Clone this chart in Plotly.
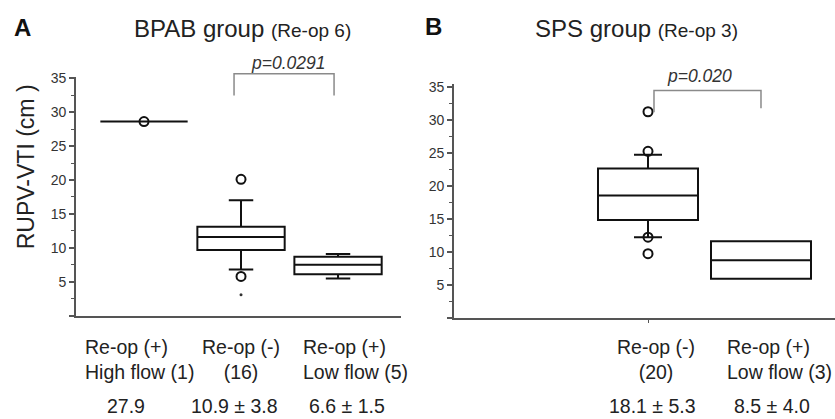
import plotly.graph_objects as go

# ---------------- data ----------------
# Panel A: BPAB group
a_positions = [0, 1, 2]
a_q1 = [28.6, 9.7, 6.1]
a_median = [28.6, 11.6, 7.5]
a_q3 = [28.6, 13.1, 8.7]
a_lowerfence = [28.6, 6.8, 5.5]
a_upperfence = [28.6, 17.0, 9.1]
a_outlier_x = [0, 1, 1]
a_outlier_y = [28.6, 20.1, 5.8]
a_extreme_x = [1]
a_extreme_y = [3.1]
a_labels = ["Re-op (+)<br>High flow (1)", "Re-op (-)<br>(16)", "Re-op (+)<br>Low flow (5)"]
a_summary = ["27.9", "10.9 ± 3.8", "6.6 ± 1.5"]
a_pvalue = "p=0.0291"

# Panel B: SPS group
b_positions = [1, 2]
b_q1 = [14.8, 5.9]
b_median = [18.5, 8.7]
b_q3 = [22.6, 11.6]
b_lowerfence = [12.2, 5.9]
b_upperfence = [24.7, 11.6]
b_outlier_x = [1, 1, 1, 1]
b_outlier_y = [31.2, 25.2, 12.2, 9.7]
b_labels = ["Re-op (-)<br>(20)", "Re-op (+)<br>Low flow (3)"]
b_summary = ["18.1 ± 5.3", "8.5 ± 4.0"]
b_pvalue = "p=0.020"

y_tickvals = [0, 5, 10, 15, 20, 25, 30, 35]
y_ticktext = ["", "5", "10", "15", "20", "25", "30", "35"]

FONT = "Arial, Liberation Sans, sans-serif"
W, H = 835, 419
BOX_LINE = "#111111"
AXIS = "#555555"
TXT = "#222222"
LABEL_SIZE = 19.5


def px_y(p):
    return 1 - p / H


fig = go.Figure()

fig.add_trace(go.Box(
    x=a_positions, q1=a_q1, median=a_median, q3=a_q3,
    lowerfence=a_lowerfence, upperfence=a_upperfence,
    width=0.9, whiskerwidth=0.28, fillcolor="white",
    line=dict(color=BOX_LINE, width=2), boxpoints=False,
    xaxis="x", yaxis="y", showlegend=False))
fig.add_trace(go.Scatter(
    x=a_outlier_x, y=a_outlier_y, mode="markers",
    marker=dict(symbol="circle-open", size=9, color=BOX_LINE, line=dict(width=2)),
    xaxis="x", yaxis="y", showlegend=False))
fig.add_trace(go.Scatter(
    x=a_extreme_x, y=a_extreme_y, mode="markers",
    marker=dict(symbol="circle", size=3, color="#333"),
    xaxis="x", yaxis="y", showlegend=False))

fig.add_trace(go.Box(
    x=b_positions, q1=b_q1, median=b_median, q3=b_q3,
    lowerfence=b_lowerfence, upperfence=b_upperfence,
    width=0.885, whiskerwidth=0.28, fillcolor="white",
    line=dict(color=BOX_LINE, width=2), boxpoints=False,
    xaxis="x2", yaxis="y2", showlegend=False))
fig.add_trace(go.Scatter(
    x=b_outlier_x, y=b_outlier_y, mode="markers",
    marker=dict(symbol="circle-open", size=9, color=BOX_LINE, line=dict(width=2)),
    xaxis="x2", yaxis="y2", showlegend=False))

yaxis_common = dict(
    tickmode="array", tickvals=y_tickvals, ticktext=y_ticktext,
    ticks="outside", ticklen=5, tickwidth=1.5, tickcolor=AXIS,
    minor=dict(ticks="outside", ticklen=3, dtick=2.5, tick0=0, tickcolor=AXIS, tickwidth=1.2),
    showline=True, linecolor=AXIS, linewidth=1.8,
    showgrid=False, zeroline=False,
    tickfont=dict(family=FONT, size=14, color="#333"),
)

fig.update_layout(
    width=W, height=H,
    margin=dict(l=0, r=0, t=0, b=0),
    paper_bgcolor="white", plot_bgcolor="white",
    showlegend=False,
    xaxis=dict(domain=[76 / W, 401 / W], range=[-0.701, 2.649],
               showline=True, linecolor=AXIS, linewidth=1.8,
               showticklabels=False, ticks="", showgrid=False, zeroline=False),
    yaxis=dict(domain=[px_y(314), px_y(71)], range=[0, 35.2], anchor="x", **yaxis_common),
    xaxis2=dict(domain=[454 / W, 1.0], range=[-0.717, 2.655],
                showline=True, linecolor=AXIS, linewidth=1.8,
                tickmode="array", tickvals=[b_positions[0]], ticks="outside", ticklen=3,
                tickcolor=AXIS, showticklabels=False, showgrid=False, zeroline=False,
                anchor="y2"),
    yaxis2=dict(domain=[px_y(316), px_y(78)], range=[0, 35.45], anchor="x2", **yaxis_common),
)


def note(text, x, y, xref="paper", size=LABEL_SIZE, xanchor="center", align="center",
         xshift=0, textangle=0, color=TXT):
    return dict(text=text, x=x, y=y, xref=xref, yref="paper", xanchor=xanchor,
                yanchor="middle", align=align, xshift=xshift, textangle=textangle,
                showarrow=False, font=dict(family=FONT, size=size, color=color))


ann = []
# panel letters & titles
ann.append(note("<b>A</b>", 22 / W, px_y(21), size=24, color="#111"))
ann.append(note("BPAB group <span style='font-size:19px'>(Re-op 6)</span>", 243 / W, px_y(22), size=24))
ann.append(note("<b>B</b>", 433 / W, px_y(20), size=24, color="#111"))
ann.append(note("SPS group <span style='font-size:19px'>(Re-op 3)</span>", 636 / W, px_y(22), size=24))
# y-axis title
ann.append(note("RUPV-VTI (cm )", 26 / W, px_y(163), size=23, textangle=-90))

# p-values
ann.append(note("<i>" + a_pvalue + "</i>", 1.485, px_y(57), xref="x", size=17.5, color="#333"))
ann.append(note("<i>" + b_pvalue + "</i>", 1.46, px_y(70), xref="x2", size=17.5, color="#333"))

# category labels
a_label_anchor = ["left", "center", "left"]
a_label_shift = [-61, 0, -37]
a_summary_shift = [-18, -7, 9]
for pos, lab, anc, sh, s, ssh in zip(a_positions, a_labels, a_label_anchor, a_label_shift,
                                      a_summary, a_summary_shift):
    ann.append(note(lab, pos, px_y(358), xref="x", xanchor=anc,
                    align="left" if anc == "left" else "center", xshift=sh))
    ann.append(note(s, pos, px_y(406), xref="x", xshift=ssh))

b_label_anchor = ["center", "left"]
b_label_shift = [8, -36]
b_summary_shift = [4, 11]
for pos, lab, anc, sh, s, ssh in zip(b_positions, b_labels, b_label_anchor, b_label_shift,
                                      b_summary, b_summary_shift):
    ann.append(note(lab, pos, px_y(358), xref="x2", xanchor=anc,
                    align="left" if anc == "left" else "center", xshift=sh))
    ann.append(note(s, pos, px_y(406), xref="x2", xshift=ssh))

fig.update_layout(annotations=ann)

# significance brackets
BR = dict(color="#8a8a8a", width=1.5)
fig.add_shape(type="path", xref="x", yref="paper",
              path=f"M {a_positions[1] - 0.072},{px_y(90)} L {a_positions[1] - 0.072},{px_y(68)} "
                   f"L {a_positions[2] - 0.041},{px_y(68)} L {a_positions[2] - 0.041},{px_y(90)}",
              line=BR)
fig.add_shape(type="path", xref="x2", yref="paper",
              path=f"M {b_positions[0] + 0.053},{px_y(107)} L {b_positions[0] + 0.053},{px_y(85)} "
                   f"L {b_positions[1]},{px_y(85)} L {b_positions[1]},{px_y(103)}",
              line=BR)

fig.write_html("out.html", config={"displayModeBar": False},
               post_script="document.body.style.margin='0';document.body.style.padding='0';")
